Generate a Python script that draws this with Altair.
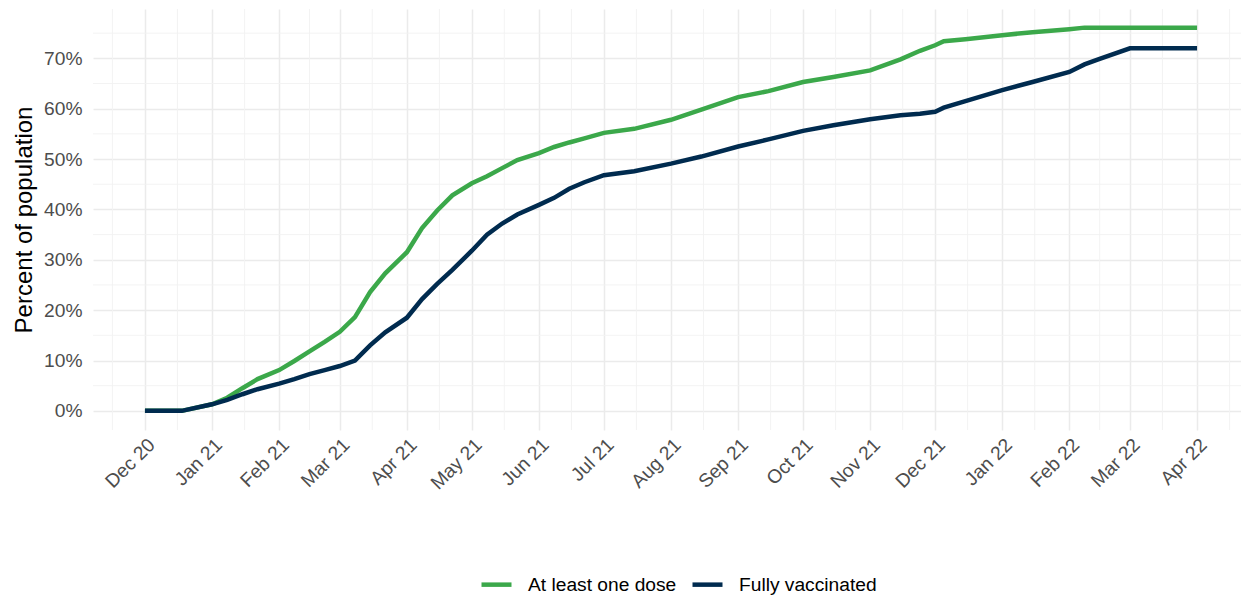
import altair as alt
import pandas as pd

# ---- data ----
dates = [
    "2020-12-01", "2020-12-18", "2021-01-01", "2021-01-08", "2021-01-15", "2021-01-22",
    "2021-02-01", "2021-02-08", "2021-02-15", "2021-02-22", "2021-03-01", "2021-03-08",
    "2021-03-15", "2021-03-22", "2021-04-01", "2021-04-08", "2021-04-15", "2021-04-22",
    "2021-05-01", "2021-05-08", "2021-05-15", "2021-05-22", "2021-06-01", "2021-06-08",
    "2021-06-15", "2021-06-22", "2021-07-01", "2021-07-15", "2021-08-01", "2021-08-15",
    "2021-09-01", "2021-09-15", "2021-10-01", "2021-10-15", "2021-11-01", "2021-11-15",
    "2021-11-24", "2021-12-01", "2021-12-05", "2021-12-15", "2022-01-01", "2022-01-15",
    "2022-02-01", "2022-02-08", "2022-02-15", "2022-03-01", "2022-04-01",
]
one_dose = [
    0.0, 0.0, 1.3, 2.6, 4.5, 6.3,
    8.1, 9.9, 11.8, 13.7, 15.7, 18.6,
    23.6, 27.3, 31.5, 36.3, 39.8, 42.8,
    45.2, 46.6, 48.2, 49.8, 51.2, 52.4,
    53.3, 54.1, 55.2, 56.0, 57.8, 59.8,
    62.3, 63.5, 65.3, 66.3, 67.6, 69.8,
    71.5, 72.6, 73.4, 73.8, 74.6, 75.2,
    75.8, 76.1, 76.1, 76.1, 76.1,
]
fully_vaccinated = [
    0.0, 0.0, 1.3, 2.2, 3.3, 4.3,
    5.4, 6.3, 7.3, 8.1, 8.9, 10.0,
    13.0, 15.6, 18.5, 22.2, 25.2, 28.0,
    31.8, 35.0, 37.2, 39.0, 40.9, 42.3,
    44.1, 45.4, 46.8, 47.6, 49.1, 50.5,
    52.5, 53.9, 55.6, 56.7, 57.9, 58.7,
    59.0, 59.4, 60.2, 61.5, 63.7, 65.3,
    67.3, 68.8, 69.9, 72.0, 72.0,
]
series_names = ["At least one dose", "Fully vaccinated"]
series_colors = ["#3BA84A", "#002B4F"]

month_ticks = [
    "2020-12-01", "2021-01-01", "2021-02-01", "2021-03-01", "2021-04-01", "2021-05-01",
    "2021-06-01", "2021-07-01", "2021-08-01", "2021-09-01", "2021-10-01", "2021-11-01",
    "2021-12-01", "2022-01-01", "2022-02-01", "2022-03-01", "2022-04-01",
]
minor_x = [
    "2020-11-16", "2020-12-16", "2021-01-16", "2021-02-15", "2021-03-16", "2021-04-16",
    "2021-05-16", "2021-06-16", "2021-07-16", "2021-08-16", "2021-09-16", "2021-10-16",
    "2021-11-16", "2021-12-16", "2022-01-16", "2022-02-15", "2022-03-16", "2022-04-16",
]
y_ticks = [0, 10, 20, 30, 40, 50, 60, 70]
y_minor = [5, 15, 25, 35, 45, 55, 65, 75]

# ---- build tables ----
n = len(dates)
df = pd.DataFrame({
    "date": [d + "T00:00:00" for d in dates] * 2,
    "value": one_dose + fully_vaccinated,
    "series": [series_names[0]] * n + [series_names[1]] * n,
})
minor_x_df = pd.DataFrame({"date": [d + "T00:00:00" for d in minor_x]})
minor_y_df = pd.DataFrame({"value": y_minor})


def dt(s, hours=0):
    y, m, d = (int(p) for p in s.split("-"))
    return alt.DateTime(year=y, month=m, date=d, hours=hours)


FONT = "Liberation Sans"
x_scale = alt.Scale(domain=[dt("2020-11-07"), dt("2022-04-21", 7)], nice=False)
y_scale = alt.Scale(domain=[-3.8, 79.8], nice=False, zero=False)

x_axis = alt.Axis(
    values=[dt(m) for m in month_ticks],
    format="%b %y",
    title=None,
    labelAngle=-45,
    labelAlign="right",
    labelBaseline="top",
    labelPadding=5,
    labelFontSize=19.2,
    labelColor="#4D4D4D",
    labelFont=FONT,
    ticks=False,
    domain=False,
    grid=True,
    gridColor="#EBEBEB",
    gridWidth=1.5,
    labelOverlap=False,
    labelFlush=False,
)
y_axis = alt.Axis(
    values=y_ticks,
    labelExpr="datum.value + '%'",
    title="Percent of population",
    titleFontSize=24,
    titleFont=FONT,
    titleFontWeight="normal",
    titleColor="#000000",
    titlePadding=7,
    labelPadding=11,
    labelFontSize=19.2,
    labelColor="#4D4D4D",
    labelFont=FONT,
    ticks=False,
    domain=False,
    grid=True,
    gridColor="#EBEBEB",
    gridWidth=1.5,
)

minor_v = alt.Chart(minor_x_df).mark_rule(color="#F2F2F2", strokeWidth=0.9).encode(
    x=alt.X("date:T", scale=x_scale, axis=x_axis)
)
minor_h = alt.Chart(minor_y_df).mark_rule(color="#F2F2F2", strokeWidth=0.9).encode(
    y=alt.Y("value:Q", scale=y_scale, axis=y_axis)
)

lines = alt.Chart(df).mark_line(strokeWidth=4.5).encode(
    x=alt.X("date:T", scale=x_scale, axis=x_axis),
    y=alt.Y("value:Q", scale=y_scale, axis=y_axis),
    color=alt.Color(
        "series:N",
        scale=alt.Scale(domain=series_names, range=series_colors),
        legend=alt.Legend(
            title=None,
            orient="none",
            direction="horizontal",
            legendX=386,
            legendY=558,
            symbolType="stroke",
            symbolSize=900,
            symbolStrokeWidth=4.5,
            labelFontSize=19.2,
            labelFont=FONT,
            labelColor="#000000",
            labelOffset=14,
            labelLimit=400,
            columnPadding=6,
            padding=0,
        ),
    ),
)

chart = alt.layer(minor_v, minor_h, lines).properties(
    width=1148,
    height=421,
    autosize=alt.AutoSizeParams(type="none"),
    padding={"left": 85, "top": 1, "right": 0, "bottom": 170},
).configure_view(stroke=None)

chart.save("out.html", embed_options={"renderer": "svg", "actions": False})
